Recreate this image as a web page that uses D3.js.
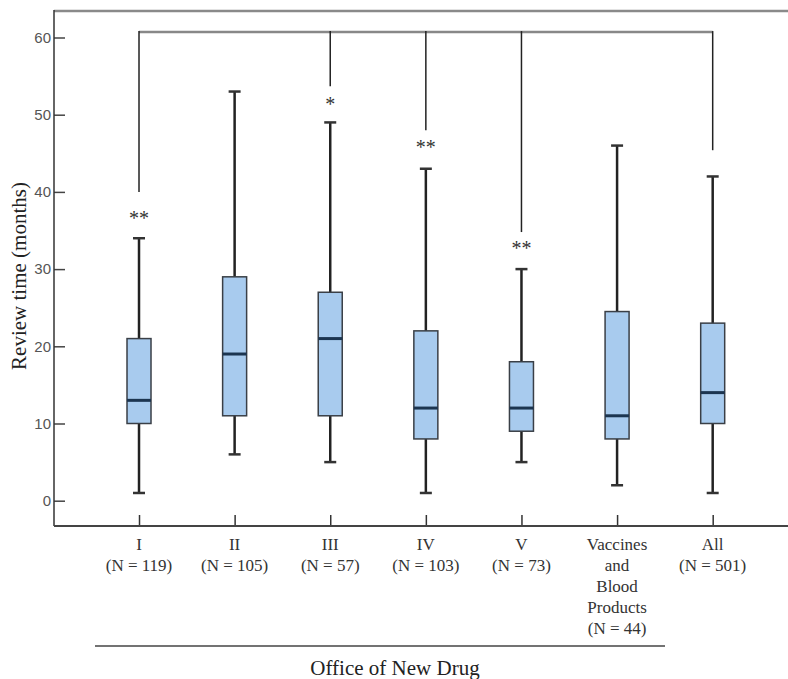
<!DOCTYPE html>
<html>
<head>
<meta charset="utf-8">
<script src="https://cdn.jsdelivr.net/npm/d3@7"></script>
<style>
  body { margin: 0; background: #fff; }
  text { font-family: "Liberation Serif", "Times New Roman", serif; }
</style>
</head>
<body>
<div id="chart"></div>
<script>
  // data
  var offices = ["I", "II", "III", "IV", "V", "Vaccines", "All"];
  var labelLines = [
    ["I", "(N = 119)"],
    ["II", "(N = 105)"],
    ["III", "(N = 57)"],
    ["IV", "(N = 103)"],
    ["V", "(N = 73)"],
    ["Vaccines", "and", "Blood", "Products", "(N = 44)"],
    ["All", "(N = 501)"]
  ];
  var whiskerLow  = [1, 6, 5, 1, 5, 2, 1];
  var q1          = [10, 11, 11, 8, 9, 8, 10];
  var medians     = [13, 19, 21, 12, 12, 11, 14];
  var q3          = [21, 29, 27, 22, 18, 24.5, 23];
  var whiskerHigh = [34, 53, 49, 43, 30, 46, 42];
  // significance bracket: where each drop line ends, and its stars
  var bracketTop = 60.7;
  var bracketEnds = [40, null, 53.7, 48, 34.8, null, 45.4];
  var stars = ["**", "", "*", "**", "**", "", ""];
  var starAt = [37, null, 51.8, 46.2, 33.1, null, null];
  var yTicks = [0, 10, 20, 30, 40, 50, 60];

  var svgWidth = 788;
  var svgHeight = 679;

  var svg = d3.select("#chart")
    .append("svg")
    .attr("width", svgWidth)
    .attr("height", svgHeight);

  var axisX = 54;
  var axisY = 526;

  var x = d3.scalePoint()
    .domain(offices)
    .range([91.2, 760.5])
    .padding(0.5);

  var y = d3.scaleLinear()
    .domain([0, 60])
    .range([500.7, 37.5]);

  var boxes = offices.map(function(o, i) {
    return { office: o, lo: whiskerLow[i], q1: q1[i], med: medians[i], q3: q3[i], hi: whiskerHigh[i] };
  });

  // frame top line
  svg.append("line")
    .attr("x1", axisX).attr("x2", svgWidth)
    .attr("y1", 11).attr("y2", 11)
    .attr("stroke", "#8a8a8a").attr("stroke-width", 2.5);

  // y axis
  var yAxis = svg.append("g")
    .attr("transform", `translate(${axisX},0)`)
    .call(d3.axisLeft(y).tickValues(yTicks).tickSize(-11).tickPadding(3));
  yAxis.select(".domain").remove();
  yAxis.selectAll(".tick line").attr("stroke", "#444").attr("stroke-width", 1.5);
  yAxis.selectAll(".tick text")
    .style("font-family", "'Liberation Sans', Arial, sans-serif")
    .attr("font-size", 15)
    .attr("fill", "#555");

  svg.append("line")
    .attr("x1", axisX).attr("x2", axisX)
    .attr("y1", 10).attr("y2", axisY)
    .attr("stroke", "#333").attr("stroke-width", 1.5);

  // x axis
  var xAxis = svg.append("g")
    .attr("transform", `translate(0,${axisY})`)
    .call(d3.axisBottom(x).tickSize(-11).tickFormat(""));
  xAxis.select(".domain").remove();
  xAxis.selectAll(".tick line").attr("stroke", "#333").attr("stroke-width", 1.5);

  svg.append("line")
    .attr("x1", axisX).attr("x2", svgWidth)
    .attr("y1", axisY).attr("y2", axisY)
    .attr("stroke", "#444").attr("stroke-width", 2);

  // category labels
  var labels = svg.append("g").selectAll("text")
    .data(labelLines)
    .enter()
    .append("text")
    .attr("text-anchor", "middle")
    .attr("font-size", 17)
    .attr("fill", "#333")
    .attr("x", (d, i) => x(offices[i]));
  labels.selectAll("tspan")
    .data(d => d)
    .enter()
    .append("tspan")
    .attr("x", function() { return d3.select(this.parentNode).attr("x"); })
    .attr("y", (d, j) => 550 + j * 21)
    .text(d => d);

  // group line and title
  svg.append("line")
    .attr("x1", 95).attr("x2", 665)
    .attr("y1", 646).attr("y2", 646)
    .attr("stroke", "#444").attr("stroke-width", 1.5);

  svg.append("text")
    .attr("x", 395).attr("y", 675)
    .attr("text-anchor", "middle")
    .attr("font-size", 21)
    .attr("fill", "#222")
    .text("Office of New Drug");

  // y label
  svg.append("text")
    .attr("transform", "translate(26,276) rotate(-90)")
    .attr("text-anchor", "middle")
    .attr("font-size", 21)
    .attr("fill", "#222")
    .text("Review time (months)");

  // boxes
  var g = svg.append("g").selectAll("g")
    .data(boxes)
    .enter()
    .append("g")
    .attr("transform", d => `translate(${x(d.office)},0)`);

  var boxW = 24;
  var capW = 12;

  g.append("line")
    .attr("y1", d => y(d.lo)).attr("y2", d => y(d.q1))
    .attr("stroke", "#222").attr("stroke-width", 2.5);
  g.append("line")
    .attr("y1", d => y(d.q3)).attr("y2", d => y(d.hi))
    .attr("stroke", "#222").attr("stroke-width", 2.5);
  g.append("line")
    .attr("x1", -capW / 2).attr("x2", capW / 2)
    .attr("y1", d => y(d.lo)).attr("y2", d => y(d.lo))
    .attr("stroke", "#333").attr("stroke-width", 2.5);
  g.append("line")
    .attr("x1", -capW / 2).attr("x2", capW / 2)
    .attr("y1", d => y(d.hi)).attr("y2", d => y(d.hi))
    .attr("stroke", "#333").attr("stroke-width", 2.5);

  g.append("rect")
    .attr("x", -boxW / 2)
    .attr("width", boxW)
    .attr("y", d => y(d.q3))
    .attr("height", d => y(d.q1) - y(d.q3))
    .attr("fill", "#a8cbee")
    .attr("stroke", "#3a3f46")
    .attr("stroke-width", 1.5);

  g.append("line")
    .attr("x1", -boxW / 2).attr("x2", boxW / 2)
    .attr("y1", d => y(d.med)).attr("y2", d => y(d.med))
    .attr("stroke", "#1c3550").attr("stroke-width", 3);

  // significance bracket
  svg.append("line")
    .attr("x1", x(offices[0])).attr("x2", x(offices[6]))
    .attr("y1", y(bracketTop)).attr("y2", y(bracketTop))
    .attr("stroke", "#888").attr("stroke-width", 2.5);

  var drops = offices.map((o, i) => ({ office: o, end: bracketEnds[i], star: stars[i], starY: starAt[i] }))
    .filter(d => d.end !== null);

  svg.append("g").selectAll("line")
    .data(drops)
    .enter()
    .append("line")
    .attr("x1", d => x(d.office)).attr("x2", d => x(d.office))
    .attr("y1", y(bracketTop) - 1).attr("y2", d => y(d.end))
    .attr("stroke", "#222").attr("stroke-width", 1.5);

  svg.append("g").selectAll("text")
    .data(drops.filter(d => d.star))
    .enter()
    .append("text")
    .attr("x", d => x(d.office))
    .attr("y", d => y(d.starY) + 10)
    .attr("text-anchor", "middle")
    .attr("font-size", 20)
    .attr("fill", "#333")
    .text(d => d.star);
</script>
</body>
</html>
